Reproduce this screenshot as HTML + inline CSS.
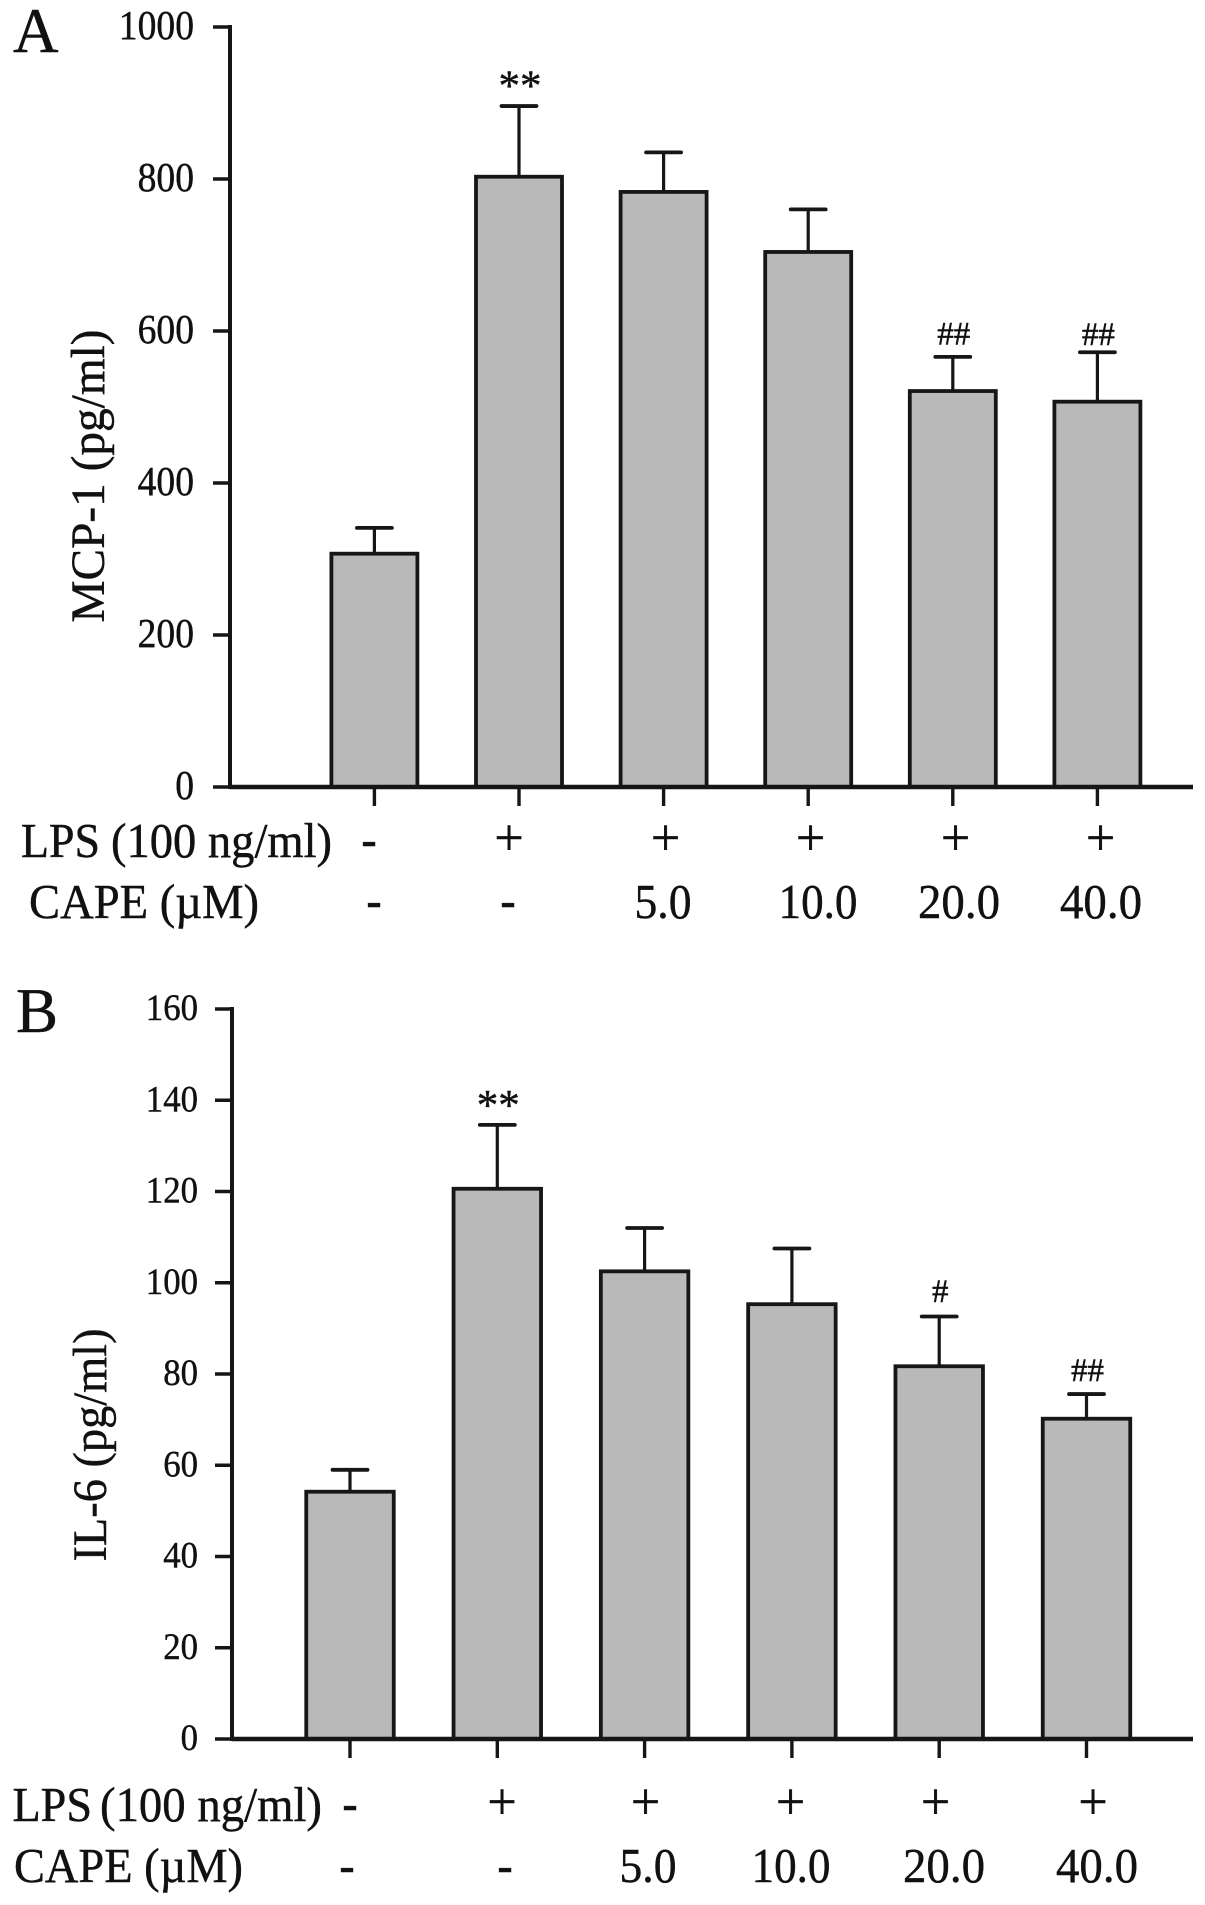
<!DOCTYPE html>
<html lang="en">
<head>
<meta charset="utf-8">
<title>MCP-1 and IL-6 bar charts</title>
<style>
html,body{margin:0;padding:0;background:#fff;}
svg{display:block;}
text{font-family:"Liberation Serif",serif;fill:#111;stroke:#111;stroke-width:.45px;}
</style>
</head>
<body>
<svg id="figure" xmlns="http://www.w3.org/2000/svg" width="1205" height="1905" viewBox="0 0 1205 1905">
  <rect x="0" y="0" width="1205" height="1905" fill="#fff"/>
  <g id="panel-a">
    <text x="13" y="52" font-size="63">A</text>
    <text transform="translate(104 476) rotate(-90)" text-anchor="middle" font-size="48" textLength="293" lengthAdjust="spacingAndGlyphs">MCP-1 (pg/ml)</text>
    <g font-size="49">
      <text x="21" y="857" textLength="79" lengthAdjust="spacingAndGlyphs">LPS</text>
      <text x="111" y="857" textLength="221" lengthAdjust="spacingAndGlyphs">(100 ng/ml)</text>
      <text x="29" y="918" textLength="230" lengthAdjust="spacingAndGlyphs">CAPE (µM)</text>
      <g text-anchor="middle">
        <text x="369" y="855" font-weight="bold" font-size="46">-</text>
        <text x="509" y="855" font-size="52">+</text>
        <text x="665.5" y="855" font-size="52">+</text>
        <text x="810.5" y="855" font-size="52">+</text>
        <text x="955.5" y="855" font-size="52">+</text>
        <text x="1100.5" y="855" font-size="52">+</text>
        <text x="374" y="916" font-weight="bold" font-size="46">-</text>
        <text x="508" y="916" font-weight="bold" font-size="46">-</text>
        <text x="663" y="918" textLength="57" lengthAdjust="spacingAndGlyphs">5.0</text>
        <text x="818" y="918" textLength="79" lengthAdjust="spacingAndGlyphs">10.0</text>
        <text x="959" y="918" textLength="82" lengthAdjust="spacingAndGlyphs">20.0</text>
        <text x="1101" y="918" textLength="82" lengthAdjust="spacingAndGlyphs">40.0</text>
      </g>
    </g>
  </g>
  <g id="panel-b">
    <text x="16" y="1032" font-size="63">B</text>
    <text transform="translate(106 1445) rotate(-90)" text-anchor="middle" font-size="48" textLength="233" lengthAdjust="spacingAndGlyphs">IL-6 (pg/ml)</text>
    <g font-size="49">
      <text x="12.5" y="1821" textLength="79.5" lengthAdjust="spacingAndGlyphs">LPS</text>
      <text x="100" y="1821" textLength="222" lengthAdjust="spacingAndGlyphs">(100 ng/ml)</text>
      <text x="14" y="1882" textLength="229" lengthAdjust="spacingAndGlyphs">CAPE (µM)</text>
      <g text-anchor="middle">
        <text x="350" y="1819" font-weight="bold" font-size="46">-</text>
        <text x="502" y="1819" font-size="52">+</text>
        <text x="645.5" y="1819" font-size="52">+</text>
        <text x="790.5" y="1819" font-size="52">+</text>
        <text x="935.5" y="1819" font-size="52">+</text>
        <text x="1093" y="1819" font-size="52">+</text>
        <text x="347" y="1881" font-weight="bold" font-size="46">-</text>
        <text x="505" y="1881" font-weight="bold" font-size="46">-</text>
        <text x="648" y="1882" textLength="57" lengthAdjust="spacingAndGlyphs">5.0</text>
        <text x="791" y="1882" textLength="79" lengthAdjust="spacingAndGlyphs">10.0</text>
        <text x="944" y="1882" textLength="82" lengthAdjust="spacingAndGlyphs">20.0</text>
        <text x="1097" y="1882" textLength="82" lengthAdjust="spacingAndGlyphs">40.0</text>
      </g>
    </g>
  </g>
</svg>
<script>
// Panel A data (MCP-1, pg/ml)
const mcpCategories = ['control', 'LPS', 'LPS+CAPE5', 'LPS+CAPE10', 'LPS+CAPE20', 'LPS+CAPE40'];
const mcpValues = [307, 803, 783, 704, 521, 507];
const mcpErrorTops = [341, 896, 835, 760, 566, 572];
const mcpTicks = [0, 200, 400, 600, 800, 1000];
const mcpSignificance = ['', '**', '', '', '##', '##'];
const mcpSignificanceLift = [0, 34, 0, 0, 31, 24];

// Panel B data (IL-6, pg/ml)
const ilCategories = ['control', 'LPS', 'LPS+CAPE5', 'LPS+CAPE10', 'LPS+CAPE20', 'LPS+CAPE40'];
const ilValues = [54.2, 120.6, 102.5, 95.3, 81.7, 70.2];
const ilErrorTops = [59, 134.6, 112, 107.5, 92.6, 75.6];
const ilTicks = [0, 20, 40, 60, 80, 100, 120, 140, 160];
const ilSignificance = ['', '**', '', '', '#', '##'];
const ilSignificanceLift = [0, 5.6, 0, 0, 5.6, 5.3];

const SVG_NS = 'http://www.w3.org/2000/svg';
const INK = '#161616';

function make(parent, tag, props, text) {
  const node = document.createElementNS(SVG_NS, tag);
  Object.keys(props).forEach(function (k) { node.setAttribute(k, props[k]); });
  if (text !== undefined) node.textContent = text;
  parent.appendChild(node);
  return node;
}

function drawPanel(cfg) {
  const root = document.getElementById(cfg.id);
  const yScale = function (v) { return cfg.y0 - (v / cfg.yMax) * (cfg.y0 - cfg.yTop); };
  const xScale = function (i) { return cfg.firstX + i * cfg.step; };

  // bars, error bars, annotations
  cfg.categories.forEach(function (cat, i) {
    const cx = xScale(i);
    const top = yScale(cfg.values[i]);
    const errTop = yScale(cfg.errorTops[i]);

    const stem = make(root, 'line', { x1: cx, x2: cx, y1: top, y2: errTop, stroke: INK, 'stroke-width': 3.2 });
    
    

    const cap = make(root, 'line', { x1: cx - 17.5, x2: cx + 17.5, y1: errTop, y2: errTop, stroke: INK, 'stroke-width': 3.8, 'stroke-linecap': 'round' });
    
    

    const bar = make(root, 'rect', { x: cx - cfg.barW / 2, y: top, width: cfg.barW, height: cfg.y0 - top, fill: '#b9b9b9', stroke: INK, 'stroke-width': 3.8 });
    
    

    const mark = cfg.significance[i];
    if (mark) {
      const isStar = mark.charAt(0) === '*';
      const centre = yScale(cfg.errorTops[i] + cfg.lift[i]);
      const note = make(root, 'text', {
        x: cx + 1,
        y: centre + (isStar ? 20 : 11),
        'text-anchor': 'middle',
        'font-size': isStar ? 43 : 33,
        'stroke-width': isStar ? 1 : 0.3
      }, mark);
      
      
    }

    const xTick = make(root, 'line', { x1: cx, x2: cx, y1: cfg.y0, y2: cfg.y0 + 19, stroke: INK, 'stroke-width': 3.4 });
    
    
  });

  // y axis line
  const yAxis = make(root, 'line', { x1: cfg.axisX, x2: cfg.axisX, y1: cfg.yTop - 2, y2: cfg.y0 + 2, stroke: INK, 'stroke-width': 4 });
  
  

  // x axis line
  const xAxis = make(root, 'line', { x1: cfg.axisX, x2: 1193, y1: cfg.y0, y2: cfg.y0, stroke: INK, 'stroke-width': 4.4 });
  
  

  // y ticks & labels
  cfg.ticks.forEach(function (t) {
    const y = yScale(t);
    const tick = make(root, 'line', { x1: cfg.axisX - 17, x2: cfg.axisX, y1: y, y2: y, stroke: INK, 'stroke-width': 3.6 });
    
    

    const s = String(t);
    const label = make(root, 'text', {
      x: cfg.labelRight,
      y: y + cfg.labelDy,
      'text-anchor': 'end',
      'font-size': cfg.labelSize,
      textLength: s.length * cfg.digitW,
      lengthAdjust: 'spacingAndGlyphs',
      'stroke-width': 0.2
    }, s);
    
    
  });
}

drawPanel({
  id: 'panel-a', categories: mcpCategories, values: mcpValues, errorTops: mcpErrorTops,
  ticks: mcpTicks, significance: mcpSignificance, lift: mcpSignificanceLift,
  yMax: 1000, y0: 787, yTop: 27, axisX: 230, firstX: 374.4, step: 144.6, barW: 86,
  labelRight: 194, labelSize: 41, digitW: 18.8, labelDy: 12
});
drawPanel({
  id: 'panel-b', categories: ilCategories, values: ilValues, errorTops: ilErrorTops,
  ticks: ilTicks, significance: ilSignificance, lift: ilSignificanceLift,
  yMax: 160, y0: 1739, yTop: 1009, axisX: 232, firstX: 350, step: 147.3, barW: 87.5,
  labelRight: 198, labelSize: 37, digitW: 17.4, labelDy: 11
});
</script>
</body>
</html>
